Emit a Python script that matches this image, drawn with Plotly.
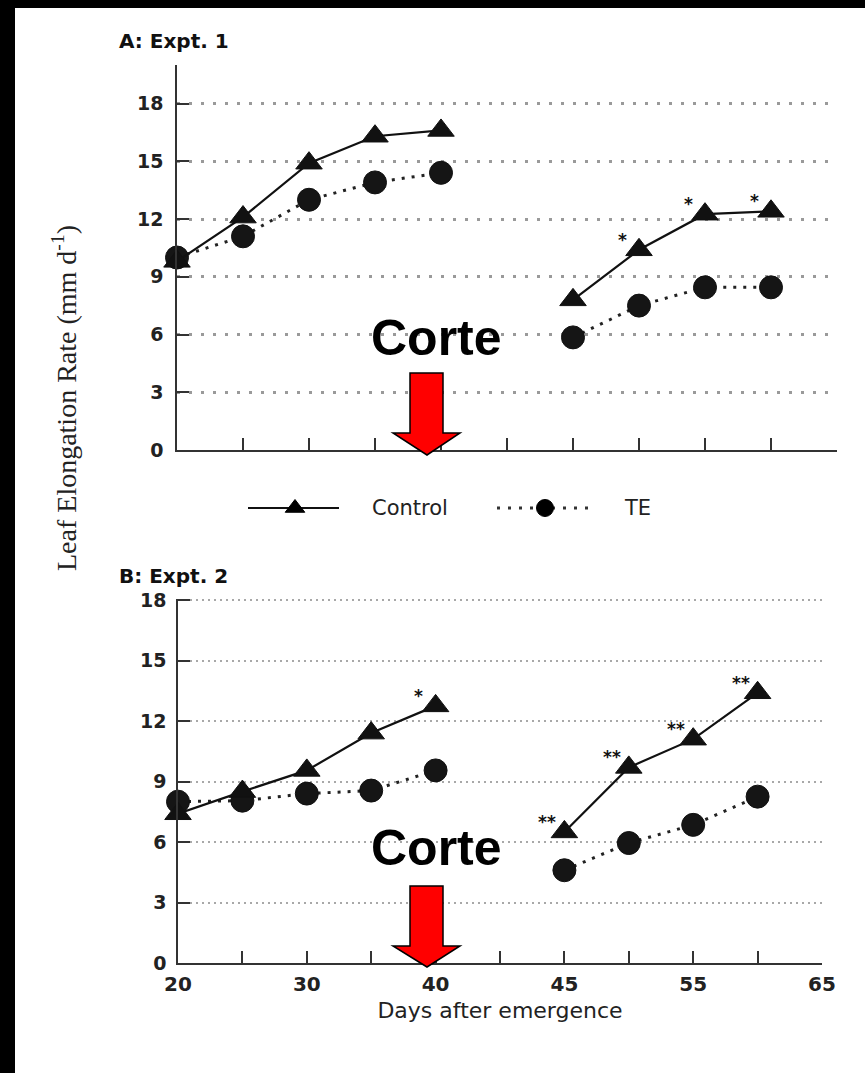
import plotly.graph_objects as go

W, H = 865, 1073

# ---------------- data ----------------
days_pre = [20, 25, 30, 35, 40]
days_post = [45, 50, 55, 60]
AXIS_BREAK = 5  # broken x-axis: days after the cut are shifted by one 5-day slot

# Panel A: Expt. 1
a_ctrl_pre = [9.8, 12.1, 14.9, 16.3, 16.6]
a_te_pre = [10.0, 11.1, 13.0, 13.9, 14.4]
a_ctrl_post = [7.8, 10.4, 12.25, 12.4]
a_te_post = [5.85, 7.5, 8.45, 8.45]
a_sig_pre = ["", "", "", "", ""]
a_sig_post = ["", "*", "*", "*"]

# Panel B: Expt. 2
b_ctrl_pre = [7.4, 8.5, 9.55, 11.4, 12.75]
b_te_pre = [8.0, 8.05, 8.4, 8.55, 9.55]
b_ctrl_post = [6.5, 9.7, 11.1, 13.4]
b_te_post = [4.6, 5.95, 6.85, 8.25]
b_sig_pre = ["", "", "", "", "*"]
b_sig_post = ["**", "**", "**", "**"]

x_major_vals = [20, 30, 40, 50, 60, 70]
x_major_text = ["20", "30", "40", "45", "55", "65"]
x_minor_vals = [25, 35, 45, 55, 65]
y_tickvals = [0, 3, 6, 9, 12, 15, 18]

series_names = ["Control", "TE"]


def px(x):
    return x / W


def py(y):
    return 1 - y / H


pos_pre = list(days_pre)
pos_post = [d + AXIS_BREAK for d in days_post]

fig = go.Figure()

ctrl_marker = dict(symbol="triangle-up", size=23, color="#111", line=dict(color="#111", width=1))
te_marker = dict(symbol="circle", size=23, color="#151515", line=dict(color="#111", width=1))
ctrl_line = dict(color="#111", width=2.2)
te_line = dict(color="#222", width=3, dash="3px,7px")


def add_panel(xa, ya, c_pre, t_pre, c_post, t_post):
    for xs, ys in ((pos_pre, t_pre), (pos_post, t_post)):
        fig.add_trace(go.Scatter(x=xs, y=ys, mode="lines+markers", name=series_names[1],
                                 line=te_line, marker=te_marker, xaxis=xa, yaxis=ya,
                                 cliponaxis=False, showlegend=False))
    for xs, ys in ((pos_pre, c_pre), (pos_post, c_post)):
        fig.add_trace(go.Scatter(x=xs, y=ys, mode="lines+markers", name=series_names[0],
                                 line=ctrl_line, marker=ctrl_marker, xaxis=xa, yaxis=ya,
                                 cliponaxis=False, showlegend=False))


add_panel("x", "y", a_ctrl_pre, a_te_pre, a_ctrl_post, a_te_post)
add_panel("x2", "y2", b_ctrl_pre, b_te_pre, b_ctrl_post, b_te_post)

# ---------------- manual legend (between panels) ----------------
fig.add_trace(go.Scatter(x=[248, 339], y=[0, 0], mode="lines", xaxis="x3", yaxis="y3",
                         line=ctrl_line, showlegend=False, hoverinfo="skip"))
fig.add_trace(go.Scatter(x=[295], y=[0], mode="markers", xaxis="x3", yaxis="y3", opacity=1,
                         marker=dict(symbol="triangle-up", size=17, color="#000",
                                     line=dict(color="#000", width=1)),
                         showlegend=False, hoverinfo="skip"))
fig.add_trace(go.Scatter(x=[497, 589], y=[0, 0], mode="lines", xaxis="x3", yaxis="y3",
                         line=dict(color="#333", width=3, dash="3px,8px"),
                         showlegend=False, hoverinfo="skip"))
fig.add_trace(go.Scatter(x=[545], y=[0], mode="markers", xaxis="x3", yaxis="y3", opacity=1,
                         marker=dict(symbol="circle", size=17, color="#000",
                                     line=dict(color="#000", width=1)),
                         showlegend=False, hoverinfo="skip"))

annotations = []
annotations.append(dict(text="Control", x=px(370), y=0, xref="paper", yref="y3", xanchor="left",
                        yanchor="middle", showarrow=False, font=dict(family="DejaVu Sans", size=21, color="#222")))
annotations.append(dict(text="TE", x=px(622), y=0, xref="paper", yref="y3", xanchor="left",
                        yanchor="middle", showarrow=False, font=dict(family="DejaVu Sans", size=21, color="#222")))

# significance marks
sig_font = dict(family="DejaVu Sans", size=17, color="#111", weight="bold")
for xa, ya, xs, ys, sigs in (("x", "y", pos_post, a_ctrl_post, a_sig_post),
                             ("x2", "y2", pos_pre, b_ctrl_pre, b_sig_pre),
                             ("x2", "y2", pos_post, b_ctrl_post, b_sig_post)):
    for xv, yv, s in zip(xs, ys, sigs):
        if s:
            annotations.append(dict(text=s, x=xv, y=yv, xref=xa, yref=ya, showarrow=False,
                                    xanchor="center", yanchor="middle", xshift=-17, yshift=10,
                                    font=sig_font))

# panel titles
title_font = dict(family="DejaVu Sans", size=20, color="#111", weight="bold")
annotations.append(dict(text="A: Expt. 1", x=px(117), y=py(41), xref="paper", yref="paper",
                        xanchor="left", yanchor="middle", showarrow=False, font=title_font))
annotations.append(dict(text="B: Expt. 2", x=px(117), y=py(576), xref="paper", yref="paper",
                        xanchor="left", yanchor="middle", showarrow=False, font=title_font))

# shared y title
annotations.append(dict(text="Leaf Elongation Rate (mm d<sup>-1</sup>)", x=px(64), y=py(398),
                        xref="paper", yref="paper", xanchor="center", yanchor="middle",
                        textangle=-90, showarrow=False,
                        font=dict(family="Liberation Serif", size=28, color="#222")))

# "Corte" labels
corte_font = dict(family="Liberation Sans", size=50, color="#000", weight="bold")
for cy in (338, 848):
    annotations.append(dict(text="Corte", x=px(436), y=py(cy), xref="paper", yref="paper",
                            xanchor="center", yanchor="middle", showarrow=False, font=corte_font))


def arrow_path(top, base, tip, bx0=410, bx1=443, hx0=393, hx1=460, cx=427):
    pts = [(bx0, top), (bx1, top), (bx1, base), (hx1, base), (cx, tip), (hx0, base), (bx0, base)]
    return "M " + " L ".join(f"{px(a):.5f},{py(b):.5f}" for a, b in pts) + " Z"


shapes = []
for top, base, tip in ((373, 433, 455), (886, 946, 967)):
    shapes.append(dict(type="path", path=arrow_path(top, base, tip), xref="paper", yref="paper",
                       fillcolor="#ff0000", line=dict(color="#000", width=1.5), layer="above"))

# black scan frame (left and top)
shapes.append(dict(type="rect", xref="paper", yref="paper", x0=0, x1=px(15), y0=0, y1=1,
                   fillcolor="#000", line=dict(width=0), layer="above"))
shapes.append(dict(type="rect", xref="paper", yref="paper", x0=0, x1=1, y0=py(8), y1=1,
                   fillcolor="#000", line=dict(width=0), layer="above"))

axis_common = dict(showline=True, linecolor="#333", linewidth=1.5, ticks="inside", ticklen=12,
                   tickwidth=1.5, tickcolor="#333", zeroline=False, fixedrange=True, automargin=False)
minor_x = dict(tickvals=x_minor_vals, ticks="inside", ticklen=12, tickwidth=1.5, tickcolor="#333",
               showgrid=False)
tick_font = dict(family="DejaVu Sans", size=19, color="#222", weight="bold")

fig.update_layout(
    width=W, height=H, autosize=False,
    margin=dict(l=0, r=0, t=0, b=0, pad=0, autoexpand=False),
    paper_bgcolor="white", plot_bgcolor="rgba(0,0,0,0)",
    showlegend=False,
    xaxis=dict(domain=[px(177), px(837)], range=[20, 70], tickvals=x_major_vals, showticklabels=False,
               minor=minor_x, showgrid=False, anchor="y", **axis_common),
    yaxis=dict(domain=[py(450), py(65)], range=[0, 20], tickvals=y_tickvals, anchor="x",
               showgrid=True, gridcolor="#9a9a9a", gridwidth=2.5, griddash="2.5px,9.5px",
               tickfont=tick_font, ticklabelstandoff=8, **axis_common),
    xaxis2=dict(domain=[px(178), px(822)], range=[20, 70], tickvals=x_major_vals, ticktext=x_major_text,
                minor=minor_x, showgrid=False, anchor="y2",
                tickfont=dict(family="DejaVu Sans", size=20, color="#222", weight="bold"),
                ticklabelstandoff=2,
                title=dict(text="Days after emergence", standoff=8,
                           font=dict(family="DejaVu Sans", size=22, color="#222")),
                **axis_common),
    yaxis2=dict(domain=[py(963), py(599)], range=[0, 18.05], tickvals=y_tickvals, anchor="x2",
                showgrid=True, gridcolor="#a8a8a8", gridwidth=1.6, griddash="2px,4px",
                tickfont=tick_font, ticklabelstandoff=6, **axis_common),
    xaxis3=dict(domain=[0, 1], range=[0, W], visible=False, fixedrange=True, anchor="y3", automargin=False),
    yaxis3=dict(domain=[py(530), py(486)], range=[-1, 1], visible=False, fixedrange=True, anchor="x3",
                automargin=False),
    annotations=annotations,
    shapes=shapes,
)

fig.write_html("out.html", post_script="document.body.style.margin='0';document.body.style.overflow='hidden';")
